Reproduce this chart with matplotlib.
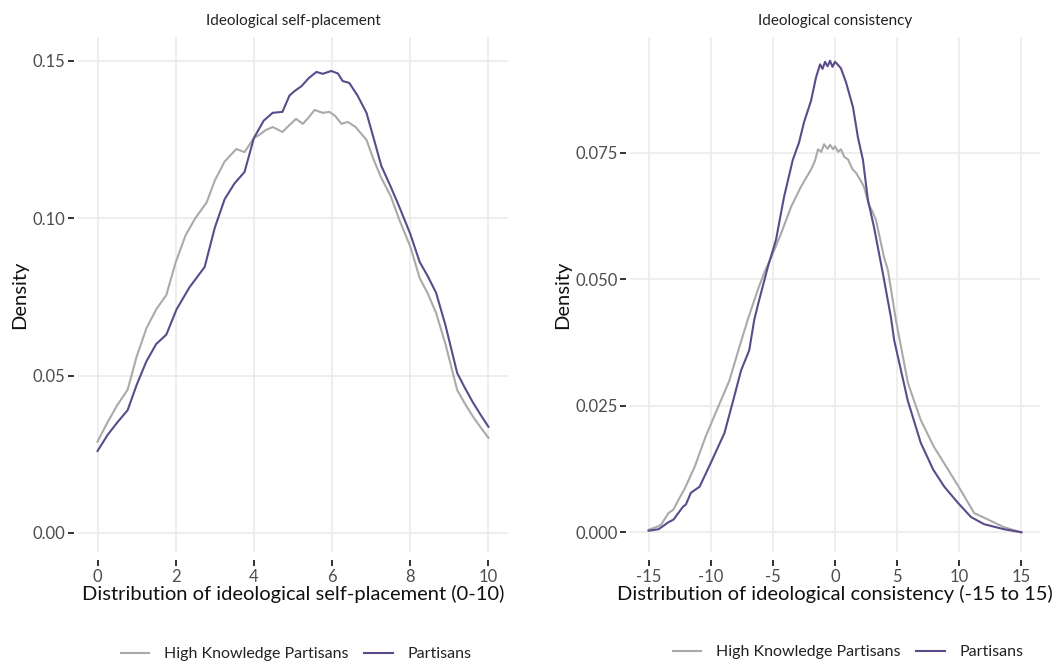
import matplotlib
matplotlib.use("Agg")
import matplotlib.pyplot as plt
from matplotlib.lines import Line2D

plt.rcParams['font.family'] = ['Lato', 'DejaVu Sans']

# ---------- data: ideological self-placement (0-10) ----------
sp_hk_x = [0, 0.25, 0.5, 0.77, 1.0, 1.25, 1.5, 1.76, 2.0, 2.25, 2.5, 2.79, 3.0, 3.25,
           3.55, 3.76, 4.0, 4.14, 4.3, 4.48, 4.73, 4.9, 5.08, 5.25, 5.4, 5.55, 5.76, 5.93,
           6.08, 6.24, 6.4, 6.6, 6.88, 7.05, 7.26, 7.5, 7.72, 8.0, 8.24, 8.45, 8.66,
           8.9, 9.2, 9.4, 9.6, 9.8, 10]
sp_hk_y = [0.029, 0.035, 0.0405, 0.0455, 0.056, 0.065, 0.071, 0.0756, 0.086, 0.0945,
           0.100, 0.105, 0.112, 0.118, 0.122, 0.121, 0.1255, 0.1265, 0.128, 0.129,
           0.1274, 0.1295, 0.1316, 0.130, 0.132, 0.1344, 0.1335, 0.1338, 0.1325,
           0.130, 0.1306, 0.129, 0.1249, 0.119, 0.1128, 0.107, 0.0995, 0.091, 0.081,
           0.076, 0.0699, 0.060, 0.0454, 0.041, 0.037, 0.0335, 0.0302]

sp_p_x = [0, 0.25, 0.5, 0.77, 1.0, 1.25, 1.5, 1.76, 2.02, 2.35, 2.74, 3.0, 3.25, 3.5,
          3.76, 4.0, 4.25, 4.48, 4.73, 4.91, 5.05, 5.22, 5.4, 5.6, 5.76, 5.98, 6.15,
          6.27, 6.44, 6.65, 6.88, 7.05, 7.26, 7.5, 7.72, 8.0, 8.24, 8.45, 8.66, 8.9,
          9.2, 9.4, 9.6, 9.8, 10]
sp_p_y = [0.026, 0.031, 0.035, 0.039, 0.047, 0.0545, 0.060, 0.063, 0.071, 0.078,
          0.0845, 0.097, 0.106, 0.111, 0.1147, 0.1255, 0.131, 0.1335, 0.1338, 0.139,
          0.1405, 0.142, 0.1445, 0.1465, 0.1459, 0.1468, 0.146, 0.1436, 0.143, 0.139,
          0.1335, 0.126, 0.1166, 0.110, 0.1036, 0.095, 0.0861, 0.0815, 0.0763, 0.066,
          0.0508, 0.046, 0.0415, 0.0375, 0.0337]

# ---------- data: ideological consistency (-15 to 15) ----------
ic_hk_x = [-15, -14.2, -14.0, -13.4, -13.0, -12.6, -12.1, -11.3, -10.4, -9.4, -8.5,
           -7.7, -7.0, -6.2, -5.7, -5.0, -4.35, -3.54, -2.74, -1.93, -1.6, -1.37,
           -1.1, -0.88, -0.6, -0.4, -0.16, 0.0, 0.25, 0.48, 0.75, 1.05, 1.4, 1.7,
           2.0, 2.33, 2.73, 3.0, 3.3, 3.94, 4.26, 4.9, 5.87, 6.9, 7.96, 9.1,
           10.1, 11.2, 11.9, 13.6, 15]
ic_hk_y = [0.0005, 0.0012, 0.0015, 0.0038, 0.0045, 0.0064, 0.0086, 0.0129, 0.019,
           0.0248, 0.030, 0.0366, 0.0422, 0.048, 0.0513, 0.0551, 0.059, 0.0643,
           0.0683, 0.0717, 0.0735, 0.0757, 0.0752, 0.0767, 0.0758, 0.0766, 0.0757,
           0.0763, 0.0752, 0.0757, 0.0742, 0.0737, 0.0718, 0.071, 0.0698, 0.0683,
           0.0647, 0.0635, 0.0617, 0.0544, 0.0518, 0.042, 0.0295, 0.0222,
           0.0169, 0.0124, 0.0084, 0.0038, 0.0030, 0.001, 0.0]

ic_p_x = [-15, -14.2, -13.4, -13.0, -12.25, -12.0, -11.6, -10.9, -10.0, -8.9, -8.2,
          -7.56, -6.9, -6.5, -6.2, -5.4, -4.75, -4.1, -3.4, -2.9, -2.5, -1.93, -1.53,
          -1.2, -1.0, -0.8, -0.6, -0.4, -0.2, 0.0, 0.2, 0.48, 0.88, 1.45, 1.85, 2.25,
          2.65, 3.14, 3.85, 4.5, 4.76, 5.86, 6.9, 7.9, 8.8, 9.9, 10.95, 12.0, 13.6, 15]
ic_p_y = [0.0003, 0.0006, 0.002, 0.0025, 0.005, 0.0055, 0.0078, 0.009, 0.0137,
          0.0196, 0.026, 0.032, 0.036, 0.042, 0.045, 0.0525, 0.0578, 0.0663, 0.0736,
          0.077, 0.081, 0.0853, 0.0899, 0.0925, 0.0916, 0.093, 0.0921, 0.0932, 0.092,
          0.093, 0.0925, 0.0917, 0.089, 0.084, 0.078, 0.0736, 0.0657, 0.0603, 0.0512,
          0.0425, 0.038, 0.026, 0.0177, 0.0124, 0.009, 0.0058, 0.003, 0.0016, 0.0006,
          0.0]

panels = [
    dict(title="Ideological self-placement",
         xlabel="Distribution of ideological self-placement (0-10)",
         hk=(sp_hk_x, sp_hk_y), p=(sp_p_x, sp_p_y),
         xticks=[0, 2, 4, 6, 8, 10], xtl=["0", "2", "4", "6", "8", "10"],
         yticks=[0.0, 0.05, 0.10, 0.15], ytl=["0.00", "0.05", "0.10", "0.15"],
         xlim=(-0.5, 10.5), ylim=(-0.0061, 0.1576),
         rect=(78, 508)),
    dict(title="Ideological consistency",
         xlabel="Distribution of ideological consistency (-15 to 15)",
         hk=(ic_hk_x, ic_hk_y), p=(ic_p_x, ic_p_y),
         xticks=[-15, -10, -5, 0, 5, 10, 15], xtl=["-15", "-10", "-5", "0", "5", "10", "15"],
         yticks=[0.0, 0.025, 0.05, 0.075], ytl=["0.000", "0.025", "0.050", "0.075"],
         xlim=(-16.5, 16.5), ylim=(-0.0039, 0.0979),
         rect=(630, 1040)),
]

W, H = 1062, 662
fig = plt.figure(figsize=(W / 100, H / 100), dpi=100)

GRAY = "#AAAAAA"
PURPLE = "#5C4A8A"

for pn in panels:
    x0, x1 = pn["rect"]
    top, bot = 37, 552
    ax = fig.add_axes([x0 / W, 1 - bot / H, (x1 - x0) / W, (bot - top) / H])
    ax.plot(*pn["hk"], color=GRAY, lw=1.5, solid_joinstyle='round')
    ax.plot(*pn["p"], color=PURPLE, lw=1.5, solid_joinstyle='round')
    ax.set_xlim(*pn["xlim"])
    ax.set_ylim(*pn["ylim"])
    ax.set_xticks(pn["xticks"])
    ax.set_xticklabels(pn["xtl"])
    ax.set_yticks(pn["yticks"])
    ax.set_yticklabels(pn["ytl"])
    ax.grid(True, color="#EBEBEB", lw=1.2)
    ax.set_axisbelow(True)
    for s in ax.spines.values():
        s.set_visible(False)
    ax.spines['bottom'].set_position(('outward', 6))
    ax.spines['left'].set_position(('outward', 3))
    ax.tick_params(axis='both', direction='out', length=4, width=1.4, color="#333333",
                   labelsize=12, labelcolor="#4D4D4D")
    ax.tick_params(axis='x', pad=2)
    ax.tick_params(axis='y', pad=2)
    ax.set_title(pn["title"], fontsize=11, color="#222222", pad=9)
    ax.set_xlabel(pn["xlabel"], fontsize=14.5, color="#111111", labelpad=0)
    ax.set_ylabel("Density", fontsize=14.5, color="#111111", labelpad=3)

handles = [Line2D([], [], color=GRAY, lw=1.5), Line2D([], [], color=PURPLE, lw=1.5)]
labels = ["High Knowledge Partisans", "Partisans"]
for cx, cy in [(296, 654), (848, 652)]:
    fig.legend(handles, labels, loc='center', bbox_to_anchor=(cx / W, 1 - cy / H),
               ncol=2, frameon=False, fontsize=11.5, handlelength=1.8,
               columnspacing=1.0, handletextpad=0.9, labelcolor="#222222")

fig.savefig("out.png", dpi=100, facecolor="white")
